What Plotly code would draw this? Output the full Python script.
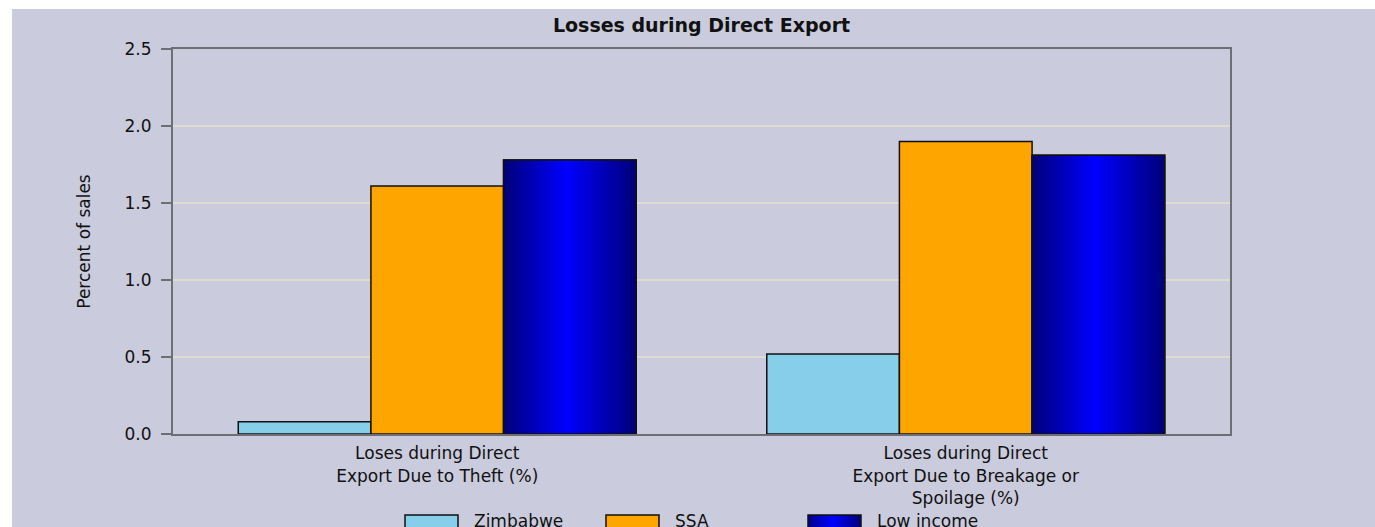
import plotly.graph_objects as go

# ---- data ----
categories = [
    "Loses during Direct<br>Export Due to Theft (%)",
    "Loses during Direct<br>Export Due to Breakage or<br>Spoilage (%)",
]
series_names = ["Zimbabwe", "SSA", "Low income"]
zimbabwe = [0.08, 0.52]
ssa = [1.61, 1.90]
low_income = [1.78, 1.81]
y_ticks = [0.0, 0.5, 1.0, 1.5, 2.0, 2.5]

# ---- styling ----
BG = "#CACBDC"
GRID = "#DCDCCF"
AXIS = "#6E6E74"
FONT = "DejaVu Sans"
SKY = "#87CEEB"
ORANGE = "#FFA500"
NAVY_SCALE = [[0.0, "#000078"], [0.47, "#0000FF"], [1.0, "#000078"]]

W, H = 1375, 527
ML, MR, MT, MB = 173, 145, 49, 93
PW, PH = W - ML - MR, H - MT - MB

BARGAP = 0.247
group_w = 1 - BARGAP
bar_w = group_w / 3


def px_x(x):
    return (x - ML) / PW


def px_y(y):
    return (H - MB - y) / PH


fig = go.Figure()

xs = list(range(len(categories)))
fig.add_trace(go.Bar(x=xs, y=zimbabwe, name=series_names[0], showlegend=False,
                     marker=dict(color=SKY, line=dict(color="#111", width=1.5))))
fig.add_trace(go.Bar(x=xs, y=ssa, name=series_names[1], showlegend=False,
                     marker=dict(color=ORANGE, line=dict(color="#111", width=1.5))))
fig.add_trace(go.Bar(x=xs, y=low_income, name=series_names[2], showlegend=False,
                     marker=dict(color="#0000C0", line=dict(color="#111", width=1.5))))

# shaded overlay for the third series: horizontal navy-blue-navy gradient per bar
for i, v in enumerate(low_income):
    x0 = i - group_w / 2 + 2 * bar_w
    x1 = x0 + bar_w
    fig.add_trace(go.Scatter(
        x=[x0, x1, x1, x0, x0], y=[0, 0, v, v, 0],
        mode="lines", fill="toself",
        fillgradient=dict(type="horizontal", colorscale=NAVY_SCALE),
        line=dict(color="#111", width=1.5),
        hoverinfo="skip", showlegend=False,
    ))

fig.update_layout(
    width=W, height=H,
    margin=dict(l=ML, r=MR, t=MT, b=MB),
    paper_bgcolor="white",
    plot_bgcolor=BG,
    barmode="group",
    bargap=BARGAP,
    bargroupgap=0,
    font=dict(family=FONT, size=17, color="#111"),
    title=dict(text="<b>Losses during Direct Export</b>", x=0.5, xref="paper",
               y=1 - 25 / H, yanchor="middle",
               font=dict(family=FONT, size=19, color="#111")),
    xaxis=dict(
        range=[-0.5, len(categories) - 0.5],
        tickvals=xs, ticktext=categories,
        ticks="", showgrid=False, zeroline=False,
        showline=True, linecolor=AXIS, linewidth=2, mirror=True,
        ticklabelstandoff=3,
        tickfont=dict(family=FONT, size=17, color="#111"),
    ),
    yaxis=dict(
        range=[0, 2.5], tickvals=y_ticks,
        ticktext=[f"{t:.1f}" for t in y_ticks],
        ticks="outside", ticklen=10, tickcolor=AXIS, tickwidth=2,
        ticklabelstandoff=6,
        showgrid=True, gridcolor=GRID, gridwidth=1.5,
        zeroline=False,
        showline=True, linecolor=AXIS, linewidth=2, mirror=True,
        tickfont=dict(family=FONT, size=17, color="#111"),
        title=dict(text="Percent of sales", standoff=30,
                   font=dict(family=FONT, size=17, color="#111")),
    ),
    showlegend=False,
)

# chart background panel (leaves a thin white strip at top and left)
fig.add_shape(type="rect", xref="paper", yref="paper", layer="below",
              x0=px_x(12), x1=px_x(W + 5), y0=px_y(H + 5), y1=px_y(9),
              fillcolor=BG, line=dict(width=0))

# legend along the bottom edge
legend_x = [405, 606, 808]
sw_w, sw_top, sw_bot = 53, 515, 530
swatch_colors = [SKY, ORANGE, None]
for name, lx, col in zip(series_names, legend_x, swatch_colors):
    if col is not None:
        fig.add_shape(type="rect", xref="paper", yref="paper",
                      x0=px_x(lx), x1=px_x(lx + sw_w),
                      y0=px_y(sw_bot), y1=px_y(sw_top),
                      fillcolor=col, line=dict(color="#111", width=1.5))
    else:
        # gradient swatch built from overlapping strips
        n = 18
        step = sw_w / n
        for k in range(n):
            t = (k + 0.5) / n
            d = abs(t - 0.47) / 0.53
            b = int(round(255 - (255 - 120) * min(d, 1)))
            fig.add_shape(type="rect", xref="paper", yref="paper",
                          x0=px_x(lx + step * k), x1=px_x(min(lx + step * (k + 2), lx + sw_w)),
                          y0=px_y(sw_bot), y1=px_y(sw_top),
                          fillcolor=f"rgb(0,0,{b})", line=dict(width=0))
        fig.add_shape(type="rect", xref="paper", yref="paper",
                      x0=px_x(lx), x1=px_x(lx + sw_w),
                      y0=px_y(sw_bot), y1=px_y(sw_top),
                      fillcolor="rgba(0,0,0,0)", line=dict(color="#111", width=1.5))
    fig.add_annotation(text=name, xref="paper", yref="paper",
                       x=px_x(lx + sw_w + 14), y=px_y(521),
                       xanchor="left", yanchor="middle", showarrow=False,
                       font=dict(family=FONT, size=17, color="#111"))

fig.write_html("out.html")
